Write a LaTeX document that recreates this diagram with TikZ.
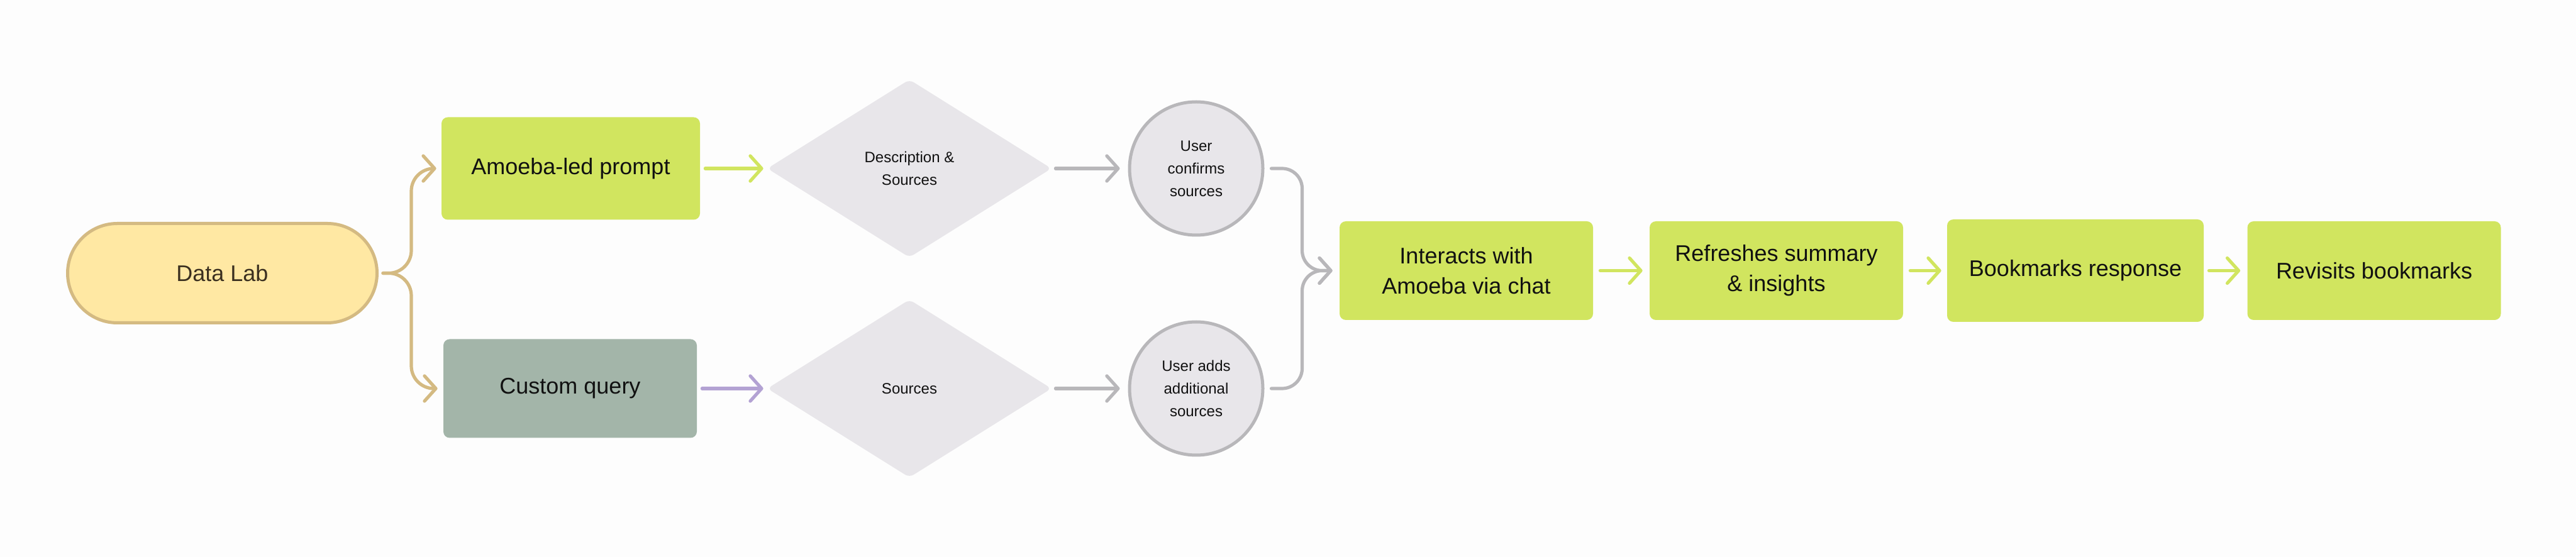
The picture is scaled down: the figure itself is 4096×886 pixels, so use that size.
\documentclass[tikz,border=0pt]{standalone}
\usepackage{fontspec}
\setmainfont{Liberation Sans}
\usetikzlibrary{shapes.geometric,arrows.meta,calc}
\definecolor{bg}{HTML}{FDFDFD}
\definecolor{pillfill}{HTML}{FFE8A3}
\definecolor{pillline}{HTML}{D4BA82}
\definecolor{lime}{HTML}{D1E55F}
\definecolor{sage}{HTML}{A3B5A9}
\definecolor{shapefill}{HTML}{E8E6EA}
\definecolor{greyline}{HTML}{B8B7BA}
\definecolor{lavender}{HTML}{B3A2D3}
\definecolor{darkbrown}{HTML}{3B3020}
\definecolor{ink}{HTML}{111111}
\begin{document}
\begin{tikzpicture}[x=0.5pt,y=-0.5pt,
  big/.style={font=\fontsize{18pt}{24pt}\selectfont, align=center, text=ink},
  small/.style={font=\fontsize{12pt}{18pt}\selectfont, align=center, text=ink},
  box/.style={big, rectangle, rounded corners=5pt, minimum width=201.5pt, minimum height=78.5pt, inner sep=0pt},
  pill/.style={big, rectangle, rounded corners=39.5pt, minimum width=246pt, minimum height=79pt, inner sep=0pt, draw=pillline, line width=2.5pt, fill=pillfill, text=darkbrown},
  dia/.style={small, diamond, aspect=1.6, rounded corners=4pt, minimum width=226pt, minimum height=141.5pt, inner sep=0pt, fill=shapefill},
  circ/.style={small, circle, minimum size=106pt, inner sep=0pt, draw=greyline, line width=2.5pt, fill=shapefill},
  conn/.style={line width=2.6pt, line cap=round, line join=round, -{Straight Barb[length=9pt,width=20pt,round]}},
]
\fill[bg] (0,0) rectangle (4096,886);
\useasboundingbox (0,0) rectangle (4096,886);

\node[pill] (dl) at (353.5,434.5) {Data Lab};
\node[box, fill=lime, minimum width=205.5pt, minimum height=81.5pt] (amoeba) at (907.5,268) {Amoeba-led prompt};
\node[box, fill=sage] (custom) at (906.5,618) {Custom query};
\node[dia] (d1) at (1446,268) {Description \&\\Sources};
\node[dia] (d2) at (1446,618) {Sources};
\node[circ] (c1) at (1902,268) {User\\confirms\\sources};
\node[circ] (c2) at (1902,618) {User adds\\additional\\sources};
\node[box, fill=lime] (inter) at (2331.5,430.5) {Interacts with\\Amoeba via chat};
\node[box, fill=lime] (refr) at (2824.5,430.5) {Refreshes summary\\\& insights};
\node[box, fill=lime, minimum width=204pt, minimum height=81.5pt] (bm) at (3300,430.5) {Bookmarks response};
\node[box, fill=lime] (rev) at (3775,430.5) {Revisits bookmarks};

\draw[conn, draw=pillline, rounded corners=18pt] ($(dl.east)+(7,0)$) -- ++(45,0) |- ($(amoeba.west)+(-8,0)$);
\draw[conn, draw=pillline, rounded corners=18pt] ($(dl.east)+(7,0)$) -- ++(45,0) |- ($(custom.west)+(-9,0)$);
\draw[conn, draw=lime] ($(amoeba.east)+(8,0)$) -- ($(d1.west)+(-6,0)$);
\draw[conn, draw=lavender] ($(custom.east)+(8,0)$) -- ($(d2.west)+(-6,0)$);
\draw[conn, draw=greyline] ($(d1.east)+(6,0)$) -- ($(c1.west)+(-13,0)$);
\draw[conn, draw=greyline] ($(d2.east)+(6,0)$) -- ($(c2.west)+(-13,0)$);
\draw[conn, draw=greyline, rounded corners=16pt] ($(c1.east)+(11,0)$) -- ++(49,0) |- ($(inter.west)+(-11,0)$);
\draw[conn, draw=greyline, rounded corners=16pt] ($(c2.east)+(11,0)$) -- ++(49,0) |- ($(inter.west)+(-11,0)$);
\draw[conn, draw=lime] ($(inter.east)+(11,0)$) -- ($(refr.west)+(-11,0)$);
\draw[conn, draw=lime] ($(refr.east)+(11,0)$) -- ($(bm.west)+(-9,0)$);
\draw[conn, draw=lime] ($(bm.east)+(8,0)$) -- ($(rev.west)+(-11,0)$);
\end{tikzpicture}
\end{document}
